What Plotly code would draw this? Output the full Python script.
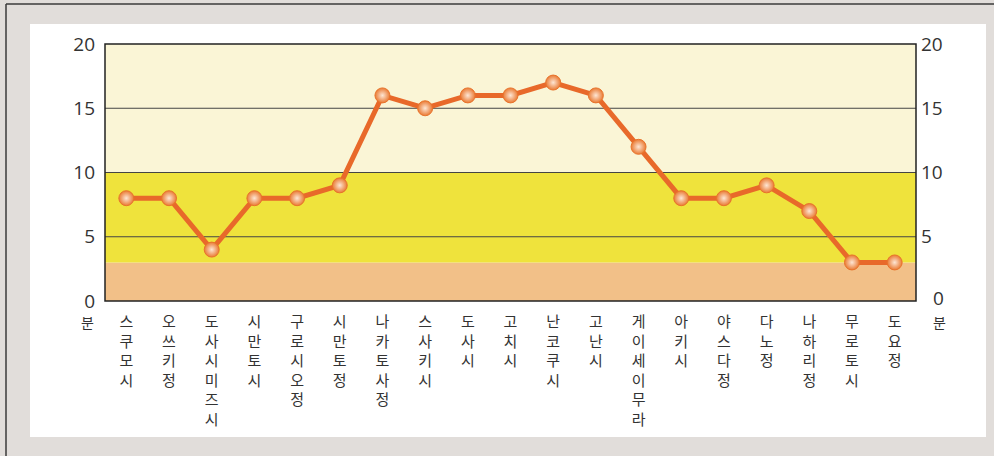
import plotly.graph_objects as go

categories = ["스쿠모시", "오쓰키정", "도사시미즈시", "시만토시", "구로시오정", "시만토정",
              "나카토사정", "스사키시", "도사시", "고치시", "난코쿠시", "고난시",
              "게이세이무라", "아키시", "야스다정", "다노정", "나하리정", "무로토시", "도요정"]
values = [8, 8, 4, 8, 8, 9, 16, 15, 16, 16, 17, 16, 12, 8, 8, 9, 7, 3, 3]
y_ticks = [0, 5, 10, 15, 20]
y_ticktext_right = ["", "5", "10", "15", "20"]
bands = [(0, 3, "#f2c088"), (3, 10, "#efe33c"), (10, 20, "#faf5d6")]
unit_label = "분"

W, H = 994, 456
L, R, T, B = 105, 78, 44, 155
pw, ph = W - L - R, H - T - B

def px(x):
    return (x - L) / pw

def py(y):
    return (H - B - y) / ph

labels = ["<br>".join(list(c)) for c in categories]
xs = list(range(len(categories)))

fig = go.Figure()

fig.add_trace(go.Scatter(
    x=xs, y=values, mode="lines+markers",
    line=dict(color="#e8692a", width=5),
    marker=dict(size=15, color="#ea7a33",
                gradient=dict(type="radial", color="#fde6d4"),
                line=dict(color="#e8732c", width=1)),
    hoverinfo="skip", showlegend=False,
))
fig.add_trace(go.Scatter(x=xs, y=values, yaxis="y2", mode="markers",
                         marker=dict(opacity=0), showlegend=False, hoverinfo="skip"))

shapes = []
shapes.append(dict(type="rect", xref="paper", yref="paper", layer="below",
                   x0=px(30), x1=px(986), y0=py(437), y1=py(24),
                   fillcolor="white", line=dict(width=0)))
shapes.append(dict(type="line", xref="paper", yref="paper", layer="below",
                   x0=px(6), x1=px(W + 5), y0=py(4), y1=py(4),
                   line=dict(color="#3a3a3a", width=1.5)))
shapes.append(dict(type="line", xref="paper", yref="paper", layer="below",
                   x0=px(6), x1=px(6), y0=py(4), y1=py(H + 5),
                   line=dict(color="#3a3a3a", width=1.5)))
for y0, y1, c in bands:
    shapes.append(dict(type="rect", xref="paper", yref="y", layer="below",
                       x0=0, x1=1, y0=y0, y1=y1, fillcolor=c, line=dict(width=0)))
for g in [5, 10, 15]:
    shapes.append(dict(type="line", xref="paper", yref="y", layer="below",
                       x0=0, x1=1, y0=g, y1=g, line=dict(color="#444444", width=1)))
shapes.append(dict(type="rect", xref="paper", yref="paper", layer="below",
                   x0=0, x1=1, y0=0, y1=1, line=dict(color="#222222", width=1.5)))

unit_font = dict(size=14, color="#333333", family="Noto Sans CJK KR")
annotations = [
    dict(text=unit_label, xref="paper", yref="paper", x=px(87), y=py(322),
         xanchor="center", yanchor="middle", showarrow=False, font=unit_font),
    dict(text=unit_label, xref="paper", yref="paper", x=px(939), y=py(322),
         xanchor="center", yanchor="middle", showarrow=False, font=unit_font),
    dict(text=str(y_ticks[0]), xref="paper", yref="paper", x=px(938), y=py(298),
         xanchor="center", yanchor="middle", showarrow=False,
         font=dict(size=19, color="#333333", family="Open Sans")),
]

fig.update_layout(
    width=W, height=H,
    margin=dict(l=L, r=R, t=T, b=B, pad=0),
    paper_bgcolor="#e1ddda",
    plot_bgcolor="rgba(0,0,0,0)",
    shapes=shapes,
    annotations=annotations,
    xaxis=dict(range=[-0.5, len(categories) - 0.5], tickmode="array",
               tickvals=xs, ticktext=labels, showgrid=False, zeroline=False,
               showline=False, ticks="", ticklabelstandoff=10,
               tickfont=dict(size=15, color="#333333", family="Noto Sans CJK KR")),
    yaxis=dict(range=[0, 20], tickmode="array", tickvals=y_ticks,
               showgrid=False, zeroline=False, showline=False, ticks="",
               ticklabelstandoff=9,
               tickfont=dict(size=19, color="#333333", family="Open Sans")),
    yaxis2=dict(range=[0, 20], tickmode="array", tickvals=y_ticks,
                ticktext=y_ticktext_right, overlaying="y",
                side="right", showgrid=False, zeroline=False, showline=False, ticks="",
                ticklabelstandoff=4,
                tickfont=dict(size=19, color="#333333", family="Open Sans")),
)

fig.write_html("out.html", config={"displayModeBar": False},
               post_script="document.body.style.margin='0px';document.body.style.overflow='hidden';")
